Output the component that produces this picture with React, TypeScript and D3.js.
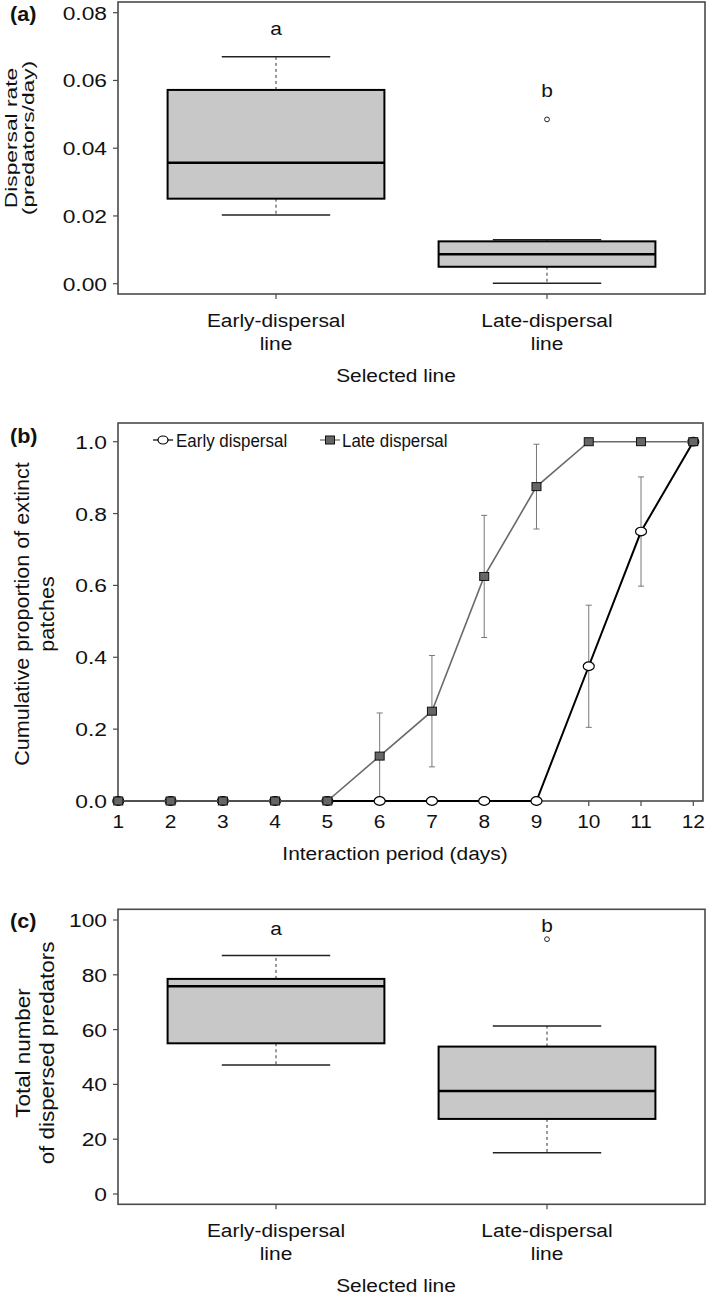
import React from "react";
import * as d3 from "d3";

// ---------- data ----------
const boxCategories = ["Early-dispersal", "Late-dispersal"];
const letters = ["a", "b"];

// Panel (a): dispersal rate (predators/day)
const rateWhiskerLow = [0.0203, 0.0001];
const rateQ1 = [0.0251, 0.005];
const rateMedian = [0.0357, 0.0087];
const rateQ3 = [0.0572, 0.0125];
const rateWhiskerHigh = [0.067, 0.013];
const rateOutliers = [[], [0.0485]];
const rateLetterAt = [0.0734, 0.0551];
const rateTicks = [0, 0.02, 0.04, 0.06, 0.08];

// Panel (b): cumulative proportion of extinct patches
const days = [1, 2, 3, 4, 5, 6, 7, 8, 9, 10, 11, 12];
const earlyProp = [0, 0, 0, 0, 0, 0, 0, 0, 0, 0.375, 0.75, 1];
const earlySE = [0, 0, 0, 0, 0, 0, 0, 0, 0, 0.17, 0.152, 0];
const lateProp = [0, 0, 0, 0, 0, 0.125, 0.25, 0.625, 0.875, 1, 1, 1];
const lateSE = [0, 0, 0, 0, 0, 0.12, 0.155, 0.17, 0.118, 0, 0, 0];
const propTicks = [0, 0.2, 0.4, 0.6, 0.8, 1.0];

// Panel (c): total number of dispersed predators
const totalWhiskerLow = [47.1, 15.1];
const totalQ1 = [55.0, 27.4];
const totalMedian = [75.8, 37.6];
const totalQ3 = [78.5, 53.8];
const totalWhiskerHigh = [87.0, 61.3];
const totalOutliers = [[], [93.0]];
const totalLetterAt = [94.5, 95.6];
const totalTicks = [0, 20, 40, 60, 80, 100];

// ---------- helpers ----------
const FONT = "'Liberation Sans', Arial, Helvetica, sans-serif";
const INK = "#111";

function T({ x, y, size = 19, sx = 1.1, anchor = "middle", rotate = false, weight = "normal", children }: any) {
  const tr = rotate
    ? `translate(${x},${y}) rotate(-90) scale(${sx},1)`
    : `translate(${x},${y}) scale(${sx},1)`;
  return (
    <text transform={tr} fontSize={size} textAnchor={anchor} fontWeight={weight} fontFamily={FONT} fill={INK}>
      {children}
    </text>
  );
}

const xBox = d3.scaleLinear().domain([0.417, 2.583]).range([118, 705]);
const HALF = 0.4;

function BoxPanel({ top, bottom, y, ticks, fmt, low, q1, med, q3, high, outs, letterAt, tag, tagY, ylab, ylabX, ylabY, ylabSize, ylabSx }: any) {
  return (
    <g>
      <rect x={118} y={top} width={705 - 118} height={bottom - top} fill="none" stroke="#4a4a4a" strokeWidth={1.6} />
      {ticks.map((t: number) => (
        <g key={t}>
          <line x1={113} x2={118} y1={y(t)} y2={y(t)} stroke="#4a4a4a" strokeWidth={1.2} />
          <T x={107} y={y(t) + 7} anchor="end" sx={1.2}>{fmt(t)}</T>
        </g>
      ))}
      {boxCategories.map((c, i) => {
        const cx = xBox(i + 1);
        return (
          <g key={c}>
            <line x1={cx} x2={cx} y1={bottom} y2={bottom + 5} stroke="#4a4a4a" strokeWidth={1.2} />
            <T x={cx} y={bottom + 33}>{c}</T>
            <T x={cx} y={bottom + 56}>line</T>
          </g>
        );
      })}
      <T x={396} y={bottom + 88}>Selected line</T>
      {boxCategories.map((c, i) => {
        const cx = xBox(i + 1);
        const l = xBox(i + 1 - HALF);
        const r = xBox(i + 1 + HALF);
        const cl = xBox(i + 1 - HALF / 2);
        const cr = xBox(i + 1 + HALF / 2);
        return (
          <g key={"b" + c}>
            <line x1={cx} x2={cx} y1={y(q3[i])} y2={y(high[i])} stroke="#333" strokeWidth={1} strokeDasharray="3,3" />
            <line x1={cx} x2={cx} y1={y(q1[i])} y2={y(low[i])} stroke="#333" strokeWidth={1} strokeDasharray="3,3" />
            <line x1={cl} x2={cr} y1={y(high[i])} y2={y(high[i])} stroke="#222" strokeWidth={1.5} />
            <line x1={cl} x2={cr} y1={y(low[i])} y2={y(low[i])} stroke="#222" strokeWidth={1.5} />
            <rect x={l} y={y(q3[i])} width={r - l} height={y(q1[i]) - y(q3[i])} fill="#c8c8c8" stroke="#000" strokeWidth={2} />
            <line x1={l} x2={r} y1={y(med[i])} y2={y(med[i])} stroke="#000" strokeWidth={2.5} />
            {outs[i].map((o: number, k: number) => (
              <circle key={k} cx={cx} cy={y(o)} r={2.4} fill="#fff" stroke="#222" strokeWidth={1} />
            ))}
            <T x={cx} y={y(letterAt[i])}>{letters[i]}</T>
          </g>
        );
      })}
      <T x={ylabX[0]} y={ylabY} rotate size={ylabSize} sx={ylabSx}>{ylab[0]}</T>
      <T x={ylabX[1]} y={ylabY} rotate size={ylabSize} sx={ylabSx}>{ylab[1]}</T>
      <T x={10} y={tagY} anchor="start" weight="bold" size={20} sx={1.08}>{tag}</T>
    </g>
  );
}

export default function App() {
  const yA = d3.scaleLinear().domain([0, 0.08]).range([283.7, 12.7]);
  const yC = d3.scaleLinear().domain([0, 100]).range([1194, 920]);

  const xB = d3.scaleLinear().domain([1, 12]).range([118.3, 693.3]);
  const yB = d3.scaleLinear().domain([0, 1]).range([801, 441.7]);
  const line = d3
    .line<number>()
    .x((_, i) => xB(days[i]))
    .y((d) => yB(d));

  const errBars = (vals: number[], se: number[], key: string) =>
    days.map((d, i) =>
      se[i] > 0 ? (
        <g key={key + d}>
          <line x1={xB(d)} x2={xB(d)} y1={yB(vals[i] - se[i])} y2={yB(vals[i] + se[i])} stroke="#777" strokeWidth={1} />
          <line x1={xB(d) - 3} x2={xB(d) + 3} y1={yB(vals[i] + se[i])} y2={yB(vals[i] + se[i])} stroke="#777" strokeWidth={1} />
          <line x1={xB(d) - 3} x2={xB(d) + 3} y1={yB(vals[i] - se[i])} y2={yB(vals[i] - se[i])} stroke="#777" strokeWidth={1} />
        </g>
      ) : null
    );

  return (
    <svg width={709} height={1298} style={{ position: "absolute", left: 0, top: 0, background: "#fff" }}>
      <rect width={709} height={1298} fill="#fff" />
      <BoxPanel
        top={2}
        bottom={294}
        y={yA}
        ticks={rateTicks}
        fmt={(t: number) => t.toFixed(2)}
        low={rateWhiskerLow}
        q1={rateQ1}
        med={rateMedian}
        q3={rateQ3}
        high={rateWhiskerHigh}
        outs={rateOutliers}
        letterAt={rateLetterAt}
        tag="(a)"
        tagY={21}
        ylab={["Dispersal rate", "(predators/day)"]}
        ylabX={[16.5, 34]}
        ylabY={138}
        ylabSize={16.5}
        ylabSx={1.38}
      />

      {/* Panel (b) */}
      <g>
        <rect x={118} y={423} width={703 - 118} height={801 - 423} fill="none" stroke="#4a4a4a" strokeWidth={1.6} />
        {propTicks.map((t) => (
          <g key={t}>
            <line x1={113} x2={118} y1={yB(t)} y2={yB(t)} stroke="#4a4a4a" strokeWidth={1.2} />
            <T x={107} y={yB(t) + 7} anchor="end" sx={1.2}>{t.toFixed(1)}</T>
          </g>
        ))}
        {days.map((d) => (
          <g key={"x" + d}>
            <line x1={xB(d)} x2={xB(d)} y1={801} y2={806} stroke="#4a4a4a" strokeWidth={1.2} />
            <T x={xB(d)} y={828}>{d}</T>
          </g>
        ))}
        <T x={395} y={860}>Interaction period (days)</T>
        <T x={29} y={614} rotate size={20} sx={1.08}>Cumulative proportion of extinct</T>
        <T x={53.5} y={614} rotate size={20} sx={1.08}>patches</T>
        <T x={10} y={443} anchor="start" weight="bold" size={20} sx={1.08}>(b)</T>

        {errBars(lateProp, lateSE, "l")}
        {errBars(earlyProp, earlySE, "e")}

        <path d={line(earlyProp) || ""} fill="none" stroke="#000" strokeWidth={2} />
        {days.map((d, i) => (
          <ellipse key={"ce" + d} cx={xB(d)} cy={yB(earlyProp[i])} rx={5.5} ry={4.3} fill="#fff" stroke="#000" strokeWidth={1.2} />
        ))}
        <path d={line(lateProp) || ""} fill="none" stroke="#6a6a6a" strokeWidth={1.6} />
        {days.map((d, i) => (
          <rect key={"sq" + d} x={xB(d) - 4.5} y={yB(lateProp[i]) - 4} width={9} height={8} fill="#666" stroke="#111" strokeWidth={1} />
        ))}

        {/* legend */}
        <line x1={153} x2={173} y1={440} y2={440} stroke="#000" strokeWidth={1.2} />
        <ellipse cx={163} cy={440} rx={5} ry={4} fill="#fff" stroke="#000" strokeWidth={1.2} />
        <T x={176} y={446.5} anchor="start" size={17.5} sx={0.97}>Early dispersal</T>
        <line x1={320} x2={340} y1={440} y2={440} stroke="#6a6a6a" strokeWidth={1.2} />
        <rect x={325.5} y={436} width={9} height={8} fill="#666" stroke="#111" strokeWidth={1} />
        <T x={342} y={446.5} anchor="start" size={17.5} sx={0.97}>Late dispersal</T>
      </g>

      <BoxPanel
        top={909.3}
        bottom={1204.3}
        y={yC}
        ticks={totalTicks}
        fmt={(t: number) => String(t)}
        low={totalWhiskerLow}
        q1={totalQ1}
        med={totalMedian}
        q3={totalQ3}
        high={totalWhiskerHigh}
        outs={totalOutliers}
        letterAt={totalLetterAt}
        tag="(c)"
        tagY={928}
        ylab={["Total number", "of dispersed predators"]}
        ylabX={[30, 53.5]}
        ylabY={1053}
        ylabSize={20}
        ylabSx={1.12}
      />
    </svg>
  );
}
